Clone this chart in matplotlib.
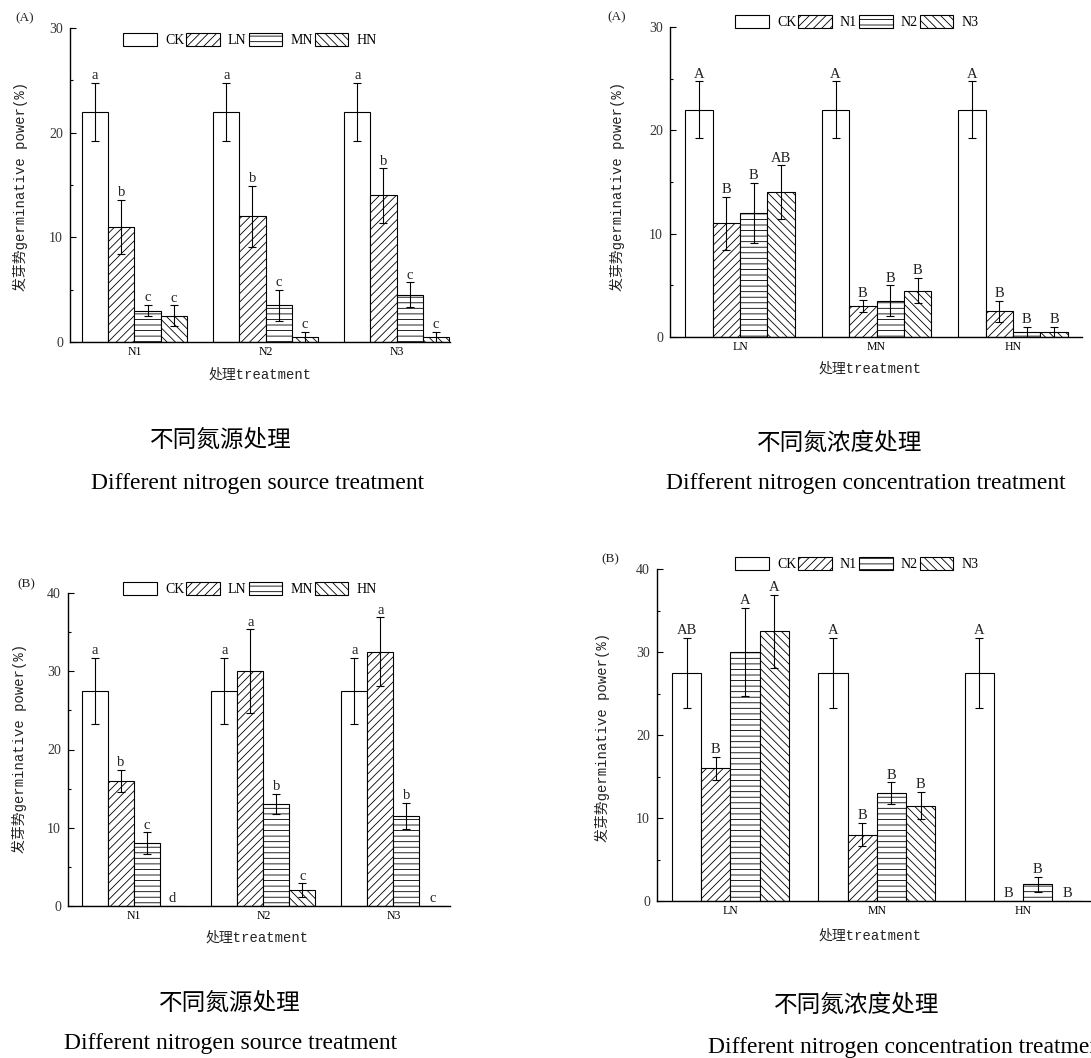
import matplotlib
matplotlib.use('Agg')
import matplotlib.pyplot as plt
import numpy as np
from matplotlib.ticker import MultipleLocator

W, H = 1091, 1058

# (A) panels - germinative power, same numbers seen from two sides
src_groups = ['N1', 'N2', 'N3']
src_series = ['CK', 'LN', 'MN', 'HN']
a_src_vals = [[22, 22, 22], [11, 12, 14], [3, 3.5, 4.5], [2.5, 0.5, 0.5]]
a_src_err = [[2.75, 2.75, 2.75], [2.55, 2.95, 2.6], [0.55, 1.5, 1.2], [1.0, 0.5, 0.5]]
a_src_let = [['a', 'a', 'a'], ['b', 'b', 'b'], ['c', 'c', 'c'], ['c', 'c', 'c']]

conc_groups = ['LN', 'MN', 'HN']
conc_series = ['CK', 'N1', 'N2', 'N3']
a_conc_vals = [[22, 22, 22], [11, 3, 2.5], [12, 3.5, 0.5], [14, 4.5, 0.5]]
a_conc_err = [[2.75, 2.75, 2.75], [2.55, 0.55, 1.0], [2.95, 1.5, 0.5], [2.6, 1.2, 0.5]]
a_conc_let = [['A', 'A', 'A'], ['B', 'B', 'B'], ['B', 'B', 'B'], ['AB', 'B', 'B']]

# (B) panels
b_src_vals = [[27.5, 27.5, 27.5], [16, 30, 32.5], [8, 13, 11.5], [0, 2, 0]]
b_src_err = [[4.2, 4.2, 4.2], [1.4, 5.35, 4.4], [1.4, 1.3, 1.65], [0, 0.9, 0]]
b_src_let = [['a', 'a', 'a'], ['b', 'a', 'a'], ['c', 'b', 'b'], ['d', 'c', 'c']]

b_conc_vals = [[27.5, 27.5, 27.5], [16, 8, 0], [30, 13, 2], [32.5, 11.5, 0]]
b_conc_err = [[4.2, 4.2, 4.2], [1.4, 1.4, 0], [5.35, 1.3, 0.9], [4.4, 1.65, 0]]
b_conc_let = [['AB', 'A', 'A'], ['B', 'B', 'B'], ['A', 'B', 'B'], ['A', 'B', 'B']]

hatches = ['', '////', '---', '\\\\\\\\']

plt.rcParams['hatch.linewidth'] = 0.6
serif = 'Liberation Serif'
mixed = ['Liberation Mono', 'Noto Sans CJK SC']
cjk = ['Noto Sans CJK SC', 'DejaVu Sans']

fig = plt.figure(figsize=(W / 100, H / 100), dpi=100)


def add_ax(l, t, r, b):
    return fig.add_axes([l / W, 1 - b / H, (r - l) / W, (b - t) / H])


def panel(box, groups, names, vals, errs, lets, ylim, xlim, tag, tagxy,
          legxy, xlabxy, ylabxy):
    ax = add_ax(*box)
    x = np.arange(1, len(groups) + 1)
    w = 0.2
    handles = []
    for i, name in enumerate(names):
        pos = x + (i - 1.5) * w
        bars = ax.bar(pos, vals[i], w, color='white', edgecolor='black',
                      linewidth=0.8, hatch=hatches[i], label=name, zorder=2)
        handles.append(bars)
        for p, v, e, t in zip(pos, vals[i], errs[i], lets[i]):
            if e > 0:
                ax.errorbar(p, v, yerr=e, fmt='none', ecolor='black',
                            elinewidth=0.8, capsize=3, capthick=0.8, zorder=3)
            ax.annotate(t, (p, v + e), xytext=(0, 0.5),
                        textcoords='offset points', ha='center', va='bottom',
                        fontsize=10.5, family=serif, color='#222')
    ax.set_xlim(*xlim)
    ax.set_ylim(*ylim)
    ax.set_xticks(x)
    ax.set_xticklabels(groups, family=serif, fontsize=8.5)
    ax.yaxis.set_major_locator(MultipleLocator(10))
    ax.yaxis.set_minor_locator(MultipleLocator(5))
    for lab in ax.get_yticklabels():
        lab.set_family(serif)
        lab.set_fontsize(10)
        lab.set_color('#333')
    ax.tick_params(axis='x', length=0, pad=3)
    ax.tick_params(axis='y', which='major', direction='in', length=4,
                   width=0.8, pad=5)
    ax.tick_params(axis='y', which='minor', direction='in', length=2,
                   width=0.8)
    for s in ['top', 'right']:
        ax.spines[s].set_visible(False)
    for s in ['left', 'bottom']:
        ax.spines[s].set_linewidth(1.0)
    ax.legend(handles, names, ncol=4, loc='center',
              bbox_to_anchor=(legxy[0] / W, 1 - legxy[1] / H),
              bbox_transform=fig.transFigure, frameon=False,
              handlelength=2.4, handleheight=1.15, handletextpad=0.6,
              columnspacing=0.15, borderpad=0, borderaxespad=0,
              prop={'family': serif, 'size': 10})
    fig.text(tagxy[0] / W, 1 - tagxy[1] / H, tag, family=serif,
             fontsize=9.5, ha='center', va='center', color='#222')
    fig.text(xlabxy[0] / W, 1 - xlabxy[1] / H, '处理treatment',
             family=mixed, fontsize=10, ha='center', va='center', color='#222')
    fig.text(ylabxy[0] / W, 1 - ylabxy[1] / H, '发芽势germinative power(%)',
             family=mixed, fontsize=10, ha='center', va='center',
             rotation=90, color='#222')
    return ax


panel((70, 28, 450, 342), src_groups, src_series, a_src_vals, a_src_err,
      a_src_let, (0, 30), (0.508, 3.408), '(A)', (25, 18), (250, 40),
      (260, 375), (20, 186))
panel((670, 27, 1082, 337), conc_groups, conc_series, a_conc_vals,
      a_conc_err, a_conc_let, (0, 30), (0.487, 3.505), '(A)', (617, 17),
      (857, 22), (870, 369), (617, 186))
panel((68, 593, 450, 906), src_groups, src_series, b_src_vals, b_src_err,
      b_src_let, (0, 40), (0.496, 3.435), '(B)', (26, 584), (250, 589),
      (257, 938), (19, 748))
panel((657, 569, 1091, 901), conc_groups, conc_series, b_conc_vals,
      b_conc_err, b_conc_let, (0, 40), (0.498, 3.464), '(B)', (610, 559),
      (857, 564), (870, 936), (602, 737))

# captions under each panel
cap_cn = 17
cap_en = 17
fig.text(221 / W, 1 - 440 / H, '不同氮源处理', family=cjk, fontsize=cap_cn,
         ha='center', va='center', fontweight='light')
fig.text(258 / W, 1 - 483 / H, 'Different nitrogen source treatment',
         family=serif, fontsize=cap_en, ha='center', va='center')
fig.text(840 / W, 1 - 443 / H, '不同氮浓度处理', family=cjk, fontsize=cap_cn,
         ha='center', va='center', fontweight='light')
fig.text(866 / W, 1 - 483 / H, 'Different nitrogen concentration treatment',
         family=serif, fontsize=cap_en, ha='center', va='center')
fig.text(230 / W, 1 - 1003 / H, '不同氮源处理', family=cjk, fontsize=cap_cn,
         ha='center', va='center', fontweight='light')
fig.text(231 / W, 1 - 1043 / H, 'Different nitrogen source treatment',
         family=serif, fontsize=cap_en, ha='center', va='center')
fig.text(857 / W, 1 - 1005 / H, '不同氮浓度处理', family=cjk, fontsize=cap_cn,
         ha='center', va='center', fontweight='light')
fig.text(708 / W, 1 - 1047 / H, 'Different nitrogen concentration treatment',
         family=serif, fontsize=cap_en, ha='left', va='center')

fig.savefig('out.png', dpi=100)
